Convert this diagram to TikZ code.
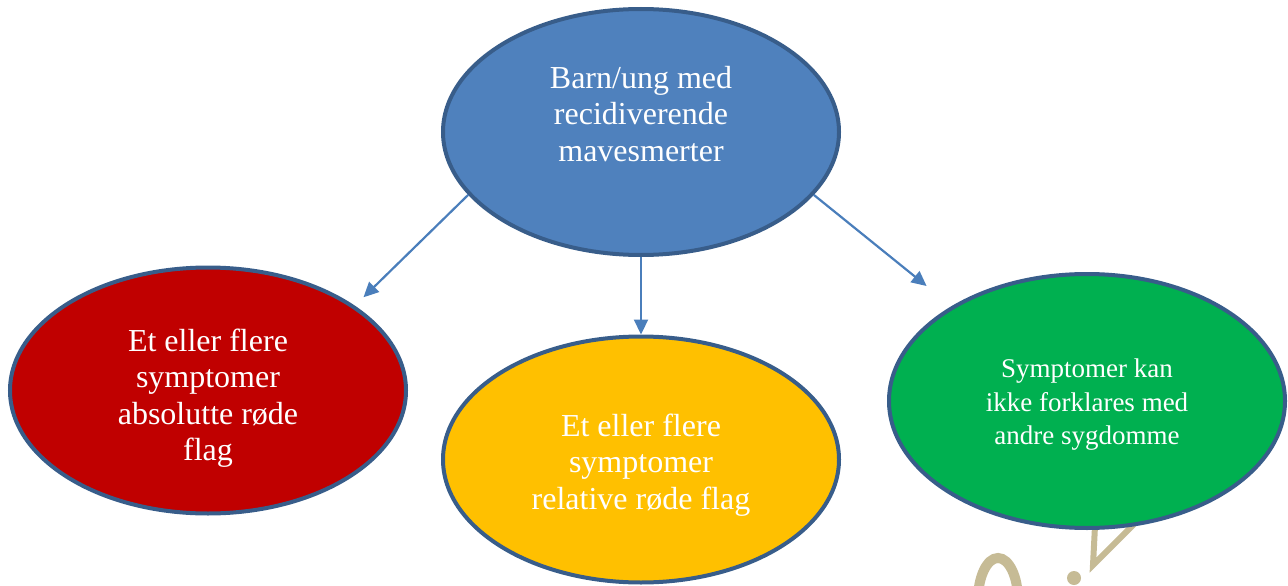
\documentclass[tikz,border=0pt]{standalone}
\usepackage{fontspec}
\setmainfont{Liberation Serif}
\usetikzlibrary{shapes.geometric,arrows.meta}
\definecolor{kant}{HTML}{385D8A}
\definecolor{blaa}{HTML}{4F81BD}
\definecolor{roed}{HTML}{C00000}
\definecolor{gul}{HTML}{FFC000}
\definecolor{groen}{HTML}{00B050}
\definecolor{pilfarge}{HTML}{4A7EBB}
\definecolor{merke}{HTML}{C6BB95}
\tikzset{
  boble/.style={ellipse, draw=kant, line width=4pt, minimum width=396pt,
    minimum height=246pt, inner sep=0pt},
  tekst/.style={text=white, align=center, font=\fontsize{32}{36.5}\selectfont},
  pil/.style={draw=pilfarge, line width=2.2pt, -{Triangle[length=15pt,width=14pt]}}
}
\begin{document}
\begin{tikzpicture}[x=1pt,y=-1pt]
	\useasboundingbox (0,0) rectangle (1288,586);
	% watermark remains, bottom right
	\begin{scope}[merke]
		\clip (0,0) rectangle (1288,586);
		\draw[line width=10pt] (978,600) arc[start angle=180,end angle=360,x radius=20,y radius=42];
		\fill (1074,578) circle (7);
		\draw[line width=6pt] (1095,526) -- (1093,565) -- (1134,524);
	\end{scope}
	% ellipses
	\node[boble, fill=blaa] (barn) at (641,132) {};
	\node[boble, fill=roed] (abs) at (208,390.5) {};
	\node[boble, fill=gul] (rel) at (641,459.5) {};
	\node[boble, fill=groen, minimum height=254pt] (andre) at (1087,401) {};
	% texts
	\node[tekst] (barnT) at (641,114) {Barn/ung med\\recidiverende\\mavesmerter};
	\node[tekst] (absT) at (208,398) {Et eller flere\\symptomer\\absolutte røde\\flag};
	\node[tekst] (relT) at (641,465) {Et eller flere\\symptomer\\relative røde flag};
	\node[tekst, font=\fontsize{27}{33.5}\selectfont] (andreT) at (1087,405)
		{Symptomer kan\\ikke forklares med\\andre sygdomme};
	% arrows
	\draw[pil, shorten >=12pt] (barn.200.5) -- (abs.30);
	\draw[pil] (barn.south) -- (rel.north);
	\draw[pil, shorten >=32pt] (barn.340) -- (andre.145.6);
\end{tikzpicture}
\end{document}
